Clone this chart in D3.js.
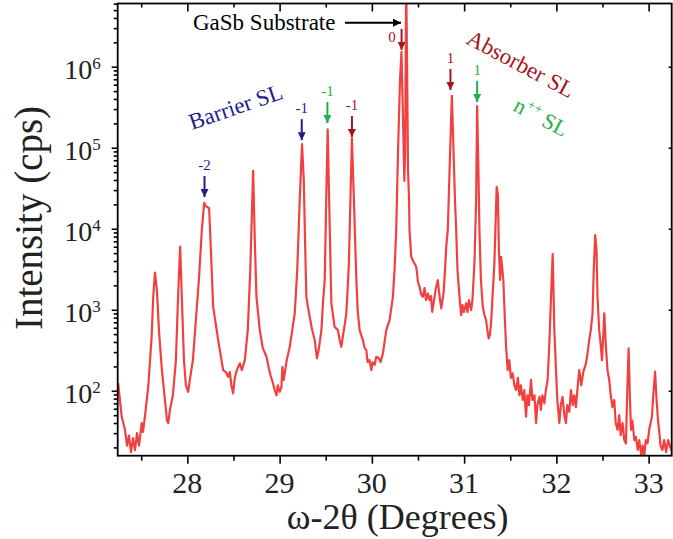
<!DOCTYPE html>
<html>
<head>
<meta charset="utf-8">
<script src="https://cdn.jsdelivr.net/npm/d3@7"></script>
<style>
  body { margin: 0; background: #fff; }
  text { font-family: "Liberation Serif", "Times New Roman", serif; }
</style>
</head>
<body>
<svg id="chart" width="673" height="539"></svg>
<script>
// omega-2theta scan
var twoTheta = [27.250,27.288,27.324,27.346,27.367,27.389,27.411,27.432,27.454,27.476,27.505,27.519,27.540,27.576,27.613,27.630,27.649,27.670,27.692,27.724,
  27.757,27.779,27.793,27.811,27.843,27.876,27.898,27.922,27.941,27.963,27.984,28.009,28.027,28.060,28.092,28.125,28.157,28.182,28.200,28.236,
  28.255,28.280,28.334,28.388,28.417,28.442,28.460,28.477,28.496,28.514,28.536,28.569,28.590,28.623,28.655,28.682,28.713,28.731,28.749,28.785,
  28.818,28.858,28.883,28.904,28.929,28.947,28.966,28.980,29.001,29.020,29.030,29.045,29.077,29.110,29.137,29.164,29.191,29.218,29.243,29.262,
  29.278,29.290,29.304,29.326,29.353,29.380,29.405,29.423,29.453,29.472,29.489,29.505,29.521,29.537,29.553,29.561,29.596,29.632,29.651,29.669,
  29.688,29.705,29.723,29.737,29.751,29.770,29.784,29.802,29.832,29.846,29.867,29.903,29.921,29.940,29.954,29.975,29.994,30.008,30.030,30.048,
  30.073,30.095,30.120,30.156,30.192,30.228,30.246,30.264,30.284,30.305,30.321,30.338,30.352,30.361,30.372,30.381,30.392,30.403,30.408,30.427,
  30.452,30.481,30.500,30.517,30.533,30.552,30.571,30.587,30.607,30.625,30.641,30.654,30.674,30.690,30.715,30.728,30.752,30.766,30.777,30.793,
  30.806,30.823,30.842,30.867,30.885,30.901,30.914,30.928,30.950,30.968,30.982,30.998,31.022,31.036,31.052,31.076,31.090,31.112,31.130,31.141,
  31.155,31.166,31.182,31.202,31.220,31.238,31.252,31.266,31.279,31.292,31.312,31.328,31.342,31.353,31.366,31.377,31.390,31.401,31.415,31.425,
  31.442,31.455,31.472,31.490,31.507,31.526,31.545,31.563,31.583,31.599,31.615,31.635,31.653,31.671,31.686,31.702,31.726,31.740,31.762,31.780,
  31.794,31.816,31.832,31.848,31.870,31.886,31.905,31.924,31.942,31.960,31.978,31.996,32.010,32.032,32.048,32.067,32.086,32.104,32.118,32.140,
  32.158,32.178,32.194,32.212,32.232,32.248,32.270,32.291,32.321,32.335,32.356,32.373,32.392,32.405,32.421,32.435,32.446,32.464,32.481,32.494,
  32.506,32.519,32.537,32.554,32.573,32.589,32.608,32.627,32.643,32.663,32.681,32.697,32.717,32.736,32.754,32.763,32.772,32.783,32.796,32.809,
  32.823,32.845,32.862,32.882,32.898,32.920,32.935,32.953,32.969,32.988,33.006,33.036,33.050,33.070,33.086,33.102,33.113,33.129,33.149,33.168,
  33.190,33.211,33.222,33.244,33.266]
var intensity = [124,48,33,21,28,17.5,26,18.5,30,21,40,31,48,112,464,1445,2870,1750,561,180,
  77,43,40,58,88,239,1318,6000,1318,239,117,97,136,239,746,2330,9640,20900,19050,17900,
  5460,1090,423,180,170,149,170,117,93,144,180,218,180,239,561,3090,52000,7240,1445,561,
  336,263,190,152,123,102,88,117,97,112,198,136,239,349,561,903,3090,22600,111000,39900,
  5460,1445,1143,820,561,423,251,318,561,1318,2330,22600,169000,22600,3090,1200,617,561,423,349,
  488,647,903,1750,3740,30100,131000,30100,2330,990,561,423,336,318,226,239,180,226,209,263,
  254,226,290,561,746,1445,3090,9640,93800,685000,1530000,220000,38800,93800,12000000,1210000,53100,22600,9640,4510,
  3880,3400,2200,1920,1560,1445,1850,1318,1590,1318,1475,944,1318,1750,2330,1656,1040,1318,1590,3090,
  6000,9640,52000,438000,93800,22600,9640,3090,1445,861,1143,938,1200,938,1318,990,1318,3740,22600,327000,
  52000,9640,2330,1090,861,746,561,444,488,679,1750,3740,12800,33000,26100,5460,2330,4510,3090,2330,
  746,349,180,239,144,164,117,102,144,88,117,77,102,48,88,66.5,136,77,88,40,
  66.5,84,58,88,70,102,136,385,1445,4880,561,180,77,40,66.5,84,50,40,66.5,55,
  102,66.5,88,63,117,180,117,170,218,276,423,561,903,3090,8360,5460,1445,561,366,239,
  423,903,349,180,136,88,63,77,40,33,50,28.4,40,24.6,22.4,58,136,333,88,33,
  43,24.6,27,18.6,24.6,16,21,16,24.6,22.4,33,48,88,172,77,43,33,21,18.6,24.6,
  17.5,24.6,22.4,18.6,21]

var xTicks = [28, 29, 30, 31, 32, 33]
var yTicks = [1e2, 1e3, 1e4, 1e5, 1e6]
var xDomain = [27.245, 33.25]
var yDomain = [15.8, 6.03e6]

// order-arrows: x position, intensity at the arrow tip, label, layer
var markerX = [28.186, 29.240, 29.518, 29.784, 30.322, 30.852, 31.141]
var markerI = [24600, 124000, 202000, 135500, 1610000, 515000, 366000]
var markerLabel = ["-2", "-1", "-1", "-1", "0", "1", "1"]
var markerLayer = ["barrier", "barrier", "npp", "absorber", "absorber", "absorber", "npp"]

var layerColor = { barrier: "#1f1f8e", absorber: "#a6161c", npp: "#1fb04a" }

drawChart()

function drawChart() {
  var svg = d3.select("#chart")
  var pl = 117.7, pr = 671.7, pt = 3.5, pb = 455.7

  var x = d3.scaleLinear().domain(xDomain).range([pl, pr])
  var y = d3.scaleLog().domain(yDomain).range([pb, pt])

  var defs = svg.append("defs")
  defs.append("clipPath").attr("id", "plotclip")
    .append("rect").attr("x", pl).attr("y", pt)
    .attr("width", pr - pl).attr("height", pb - pt)

  // the curve
  var pts = twoTheta.map(function(d, i) { return [d, intensity[i]] })
  svg.append("path")
    .datum(pts)
    .attr("clip-path", "url(#plotclip)")
    .attr("fill", "none")
    .attr("stroke", "#f24040")
    .attr("stroke-width", 2.2)
    .attr("stroke-linejoin", "round")
    .attr("d", d3.line().x(d => x(d[0])).y(d => y(d[1])))

  // minor tick values
  var xMinor = d3.range(27.5, 33.3, 1)
  var yMinor = []
  for (var e = 1; e <= 6; e++) for (var m = 2; m <= 9; m++) {
    var v = m * Math.pow(10, e)
    if (v > yDomain[0] && v < yDomain[1]) yMinor.push(v)
  }

  function styleAxis(g) {
    g.select(".domain").remove()
    g.selectAll("line").attr("stroke", "#000").attr("stroke-width", 1.6)
  }

  // bottom axis (outside ticks)
  svg.append("g").attr("transform", "translate(0," + pb + ")")
    .call(d3.axisBottom(x).tickValues(xMinor).tickSize(5).tickFormat("")).call(styleAxis)
  svg.append("g").attr("transform", "translate(0," + pb + ")")
    .call(d3.axisBottom(x).tickValues(xTicks).tickSize(8).tickFormat("")).call(styleAxis)
  // top axis (inside ticks)
  svg.append("g").attr("transform", "translate(0," + pt + ")")
    .call(d3.axisBottom(x).tickValues(xMinor).tickSize(4).tickFormat("")).call(styleAxis)
  svg.append("g").attr("transform", "translate(0," + pt + ")")
    .call(d3.axisBottom(x).tickValues(xTicks).tickSize(8).tickFormat("")).call(styleAxis)
  // left axis (outside ticks)
  svg.append("g").attr("transform", "translate(" + pl + ",0)")
    .call(d3.axisLeft(y).tickValues(yMinor).tickSize(4).tickFormat("")).call(styleAxis)
  svg.append("g").attr("transform", "translate(" + pl + ",0)")
    .call(d3.axisLeft(y).tickValues(yTicks).tickSize(6).tickFormat("")).call(styleAxis)
  // right axis (inside, majors only)
  svg.append("g").attr("transform", "translate(" + pr + ",0)")
    .call(d3.axisLeft(y).tickValues(yTicks).tickSize(3).tickFormat("")).call(styleAxis)

  // frame
  svg.append("rect")
    .attr("x", pl).attr("y", pt)
    .attr("width", pr - pl).attr("height", pb - pt)
    .attr("fill", "none").attr("stroke", "#000").attr("stroke-width", 1.8)

  // tick labels
  svg.append("g").selectAll("text")
    .data(xTicks).enter().append("text")
    .attr("x", d => x(d)).attr("y", pb + 37)
    .attr("text-anchor", "middle")
    .attr("font-size", 30).attr("fill", "#222")
    .text(d => d)

  var yl = svg.append("g").selectAll("text")
    .data(yTicks).enter().append("text")
    .attr("x", pl - 17).attr("y", d => y(d) + 12)
    .attr("text-anchor", "end")
    .attr("font-size", 28).attr("fill", "#222")
  yl.append("tspan").text("10")
  yl.append("tspan").attr("font-size", 17).attr("dy", -10)
    .text(d => Math.round(Math.log10(d)))

  // axis titles
  svg.append("text")
    .attr("x", (pl + pr) / 2 + 3).attr("y", 529)
    .attr("text-anchor", "middle").attr("font-size", 36).attr("fill", "#222")
    .text("ω-2θ (Degrees)")
  svg.append("text")
    .attr("transform", "translate(42,218) rotate(-90)")
    .attr("text-anchor", "middle").attr("font-size", 39).attr("fill", "#222")
    .text("Intensity (cps)")

  // arrow heads
  Object.keys(layerColor).concat(["black"]).forEach(function(k) {
    defs.append("marker").attr("id", "head-" + k)
      .attr("viewBox", "0 0 10 10").attr("refX", 10).attr("refY", 5)
      .attr("markerWidth", 4).attr("markerHeight", 4)
      .attr("markerUnits", "strokeWidth").attr("orient", "auto")
      .append("path").attr("d", "M0,0L10,5L0,10z")
      .attr("fill", layerColor[k] || "#000")
  })

  // order arrows
  var mk = svg.append("g").selectAll("g")
    .data(markerX.map((d, i) => i)).enter().append("g")
  mk.append("line")
    .attr("x1", i => x(markerX[i])).attr("x2", i => x(markerX[i]))
    .attr("y1", i => y(markerI[i]) - 21).attr("y2", i => y(markerI[i]))
    .attr("stroke", i => layerColor[markerLayer[i]]).attr("stroke-width", 2)
    .attr("marker-end", i => "url(#head-" + markerLayer[i] + ")")
  mk.append("text")
    .attr("x", i => markerLabel[i] == "0" ? x(markerX[i]) - 9.5 : x(markerX[i]))
    .attr("y", i => markerLabel[i] == "0" ? y(markerI[i]) - 8 : y(markerI[i]) - 27)
    .attr("text-anchor", "middle").attr("font-size", 15)
    .attr("fill", i => layerColor[markerLayer[i]])
    .text(i => markerLabel[i])

  // substrate label with arrow
  svg.append("text").attr("x", 193).attr("y", 30)
    .attr("font-size", 23).attr("fill", "#000").text("GaSb Substrate")
  svg.append("line").attr("x1", 345).attr("x2", 401).attr("y1", 22.7).attr("y2", 22.7)
    .attr("stroke", "#000").attr("stroke-width", 2)
    .attr("marker-end", "url(#head-black)")

  // layer names
  svg.append("text").attr("transform", "translate(192,130) rotate(-19)")
    .attr("font-size", 23).attr("fill", layerColor.barrier).text("Barrier SL")
  svg.append("text").attr("transform", "translate(465,43) rotate(28)")
    .attr("font-size", 23).attr("fill", layerColor.absorber).text("Absorber SL")
  var npp = svg.append("text").attr("transform", "translate(512,110) rotate(28)")
    .attr("font-size", 22).attr("fill", layerColor.npp)
  npp.append("tspan").text("n")
  npp.append("tspan").attr("font-size", 14).attr("dy", -9).text("++")
  npp.append("tspan").attr("dy", 9).text(" SL")
}
</script>
</body>
</html>
